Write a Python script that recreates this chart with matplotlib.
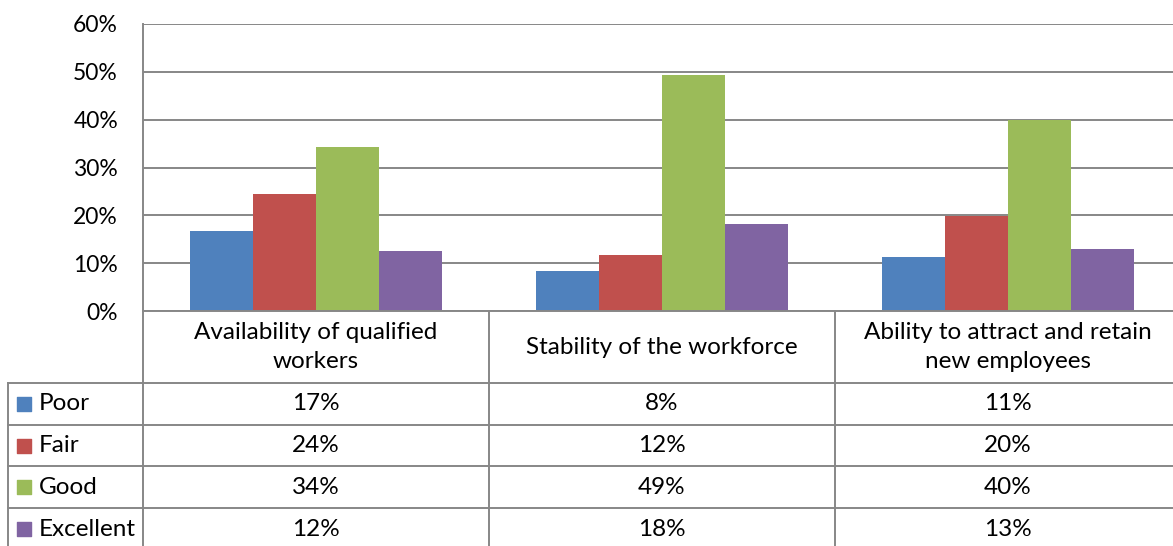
import matplotlib
matplotlib.use("Agg")
import matplotlib.pyplot as plt
import numpy as np

categories = ["Availability of qualified\nworkers", "Stability of the workforce",
              "Ability to attract and retain\nnew employees"]
series_names = ["Poor", "Fair", "Good", "Excellent"]
poor = [16.7, 8.4, 11.2]
fair = [24.4, 11.7, 19.8]
good = [34.3, 49.4, 40.0]
excellent = [12.5, 18.2, 12.9]
series_values = [poor, fair, good, excellent]
colors = ["#4F81BD", "#C0504D", "#9BBB59", "#8064A2"]
y_ticks = [0, 10, 20, 30, 40, 50, 60]

plt.rcParams['font.family'] = ['Lato', 'DejaVu Sans']
FS = 17.5
grey = "#878787"

W, H = 1173, 546
fig = plt.figure(figsize=(W / 100, H / 100), dpi=100)

# main plot axes: px 143..1181 horizontally, 24..311 vertically
ax = fig.add_axes([143 / W, 1 - 311 / H, (1181 - 143) / W, (311 - 24) / H])
x = np.arange(len(categories))
bw = 0.182
for i, (vals, c) in enumerate(zip(series_values, colors)):
    ax.bar(x + (i - 1.5) * bw, vals, width=bw, color=c, zorder=3)
ax.set_xlim(-0.5, len(categories) - 0.5)
ax.set_ylim(0, 60)
ax.set_yticks(y_ticks)
ax.set_yticklabels([f"{t}%" for t in y_ticks], fontsize=16.5)
ax.yaxis.grid(True, color=grey, linewidth=1.4, zorder=0)
ax.set_xticks([])
for s in ["top", "right", "bottom"]:
    ax.spines[s].set_visible(False)
ax.spines["left"].set_color(grey)
ax.spines["left"].set_linewidth(1.4)
ax.tick_params(axis="y", length=0, pad=18)

# table axes: px 8..1181 horizontally, 311..546 vertically
tab = fig.add_axes([8 / W, 0, (1181 - 8) / W, (H - 311) / H])
left_units = 135 / 346
tab.set_xlim(-0.5 - left_units, len(categories) - 0.5)
tab.set_ylim(235, 0)
tab.axis("off")
row_edges = [0, 72, 114, 155, 197, 239]
lw = 1.4
tab.plot([-0.5, len(categories) - 0.5], [row_edges[0]] * 2, color=grey, lw=lw, clip_on=False)
for ye in row_edges[1:]:
    tab.plot([-0.5 - left_units, len(categories) - 0.5], [ye] * 2, color=grey, lw=lw, clip_on=False)
for xv in np.arange(len(categories) + 1) - 0.5:
    tab.plot([xv, xv], [row_edges[0], row_edges[-1]], color=grey, lw=lw, clip_on=False)
tab.plot([-0.5 - left_units] * 2, [row_edges[1], row_edges[-1]], color=grey, lw=lw, clip_on=False)

for j, cat in enumerate(categories):
    tab.text(j, (row_edges[0] + row_edges[1]) / 2, cat, ha="center", va="center",
             fontsize=FS, linespacing=1.5)
for i, (name, vals, c) in enumerate(zip(series_names, series_values, colors)):
    yc = (row_edges[i + 1] + row_edges[i + 2]) / 2
    tab.scatter([-0.5 - left_units + 16 / 346], [yc], marker="s", s=100, color=c, clip_on=False)
    tab.text(-0.5 - left_units + 31 / 346, yc, name, ha="left", va="center", fontsize=FS)
    for j, v in enumerate(vals):
        tab.text(j, yc, f"{v:.0f}%", ha="center", va="center", fontsize=FS)

fig.savefig("out.png", dpi=100)
